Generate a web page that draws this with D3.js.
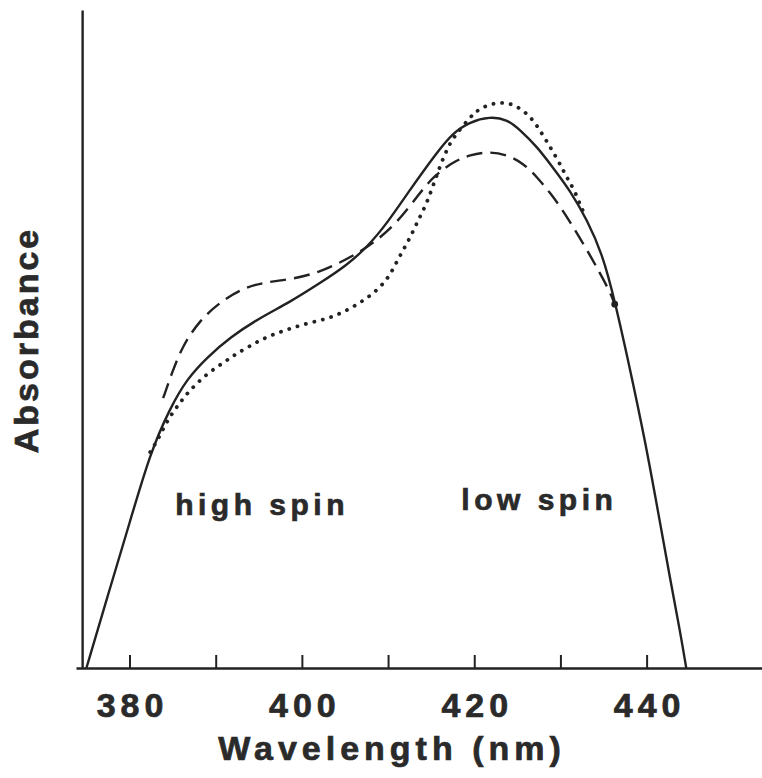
<!doctype html>
<html lang='en'>

<head>
    <meta charset='UTF-8'>
    <title>Absorbance spectra</title>
    <style>
        html,
        body {
            margin: 0;
            background: #fff;
        }

        svg text {
            font-family: "Liberation Sans", Arial, Helvetica, sans-serif;
            font-weight: bold;
            fill: #2a2a2a;
            stroke: #2a2a2a;
            stroke-width: 0.7px;
        }
    </style>
</head>

<body>
    <script src='https://d3js.org/d3.v7.min.js'></script>
    <div class='chart'></div>
    <script>
        // wavelength (nm), absorbance (arbitrary units, 0 = axis, 1 = top of frame)
        const solid = [
            [375.0, 0], [377.7, 0.12], [380.0, 0.22], [382.4, 0.327], [384.7, 0.395],
            [386.7, 0.44], [389.0, 0.472], [391.7, 0.503], [395.1, 0.532], [398.6, 0.556],
            [402.1, 0.585], [405.2, 0.612], [407.6, 0.64], [409.9, 0.676], [412.5, 0.726],
            [415.7, 0.784], [417.5, 0.813], [419.5, 0.83], [421.8, 0.838], [423.8, 0.834],
            [425.3, 0.818], [427.3, 0.792], [429.1, 0.761], [431.1, 0.726], [433.1, 0.681],
            [434.9, 0.628], [436.3, 0.559], [438.1, 0.453], [439.8, 0.347], [441.3, 0.24],
            [442.7, 0.137], [443.9, 0.055], [444.6, 0]
        ];

        const dashed = [
            [383.9, 0.41], [384.9, 0.448], [386.2, 0.491], [388.2, 0.529], [390.5, 0.556],
            [393.2, 0.578], [396.0, 0.587], [399.0, 0.591], [402.1, 0.602], [404.4, 0.616],
            [406.7, 0.632], [408.7, 0.65], [411.0, 0.676], [413.7, 0.722], [415.2, 0.746],
            [417.5, 0.769], [419.5, 0.78], [421.8, 0.785], [423.8, 0.78], [425.7, 0.767],
            [427.3, 0.746], [428.8, 0.722], [430.0, 0.701], [431.5, 0.67], [433.1, 0.635],
            [434.6, 0.6], [435.8, 0.57], [436.3, 0.553]
        ];

        const dotted = [
            [382.4, 0.328], [383.3, 0.347], [384.1, 0.369], [385.0, 0.388], [385.9, 0.404],
            [386.8, 0.419], [388.0, 0.435], [389.3, 0.45], [390.9, 0.464], [392.2, 0.476],
            [393.8, 0.488], [395.4, 0.5], [397.1, 0.509], [398.9, 0.517], [400.7, 0.524],
            [402.7, 0.53], [404.4, 0.538], [406.4, 0.552], [408.3, 0.569], [409.9, 0.59],
            [410.8, 0.612], [411.7, 0.634], [412.6, 0.655], [413.4, 0.678], [414.3, 0.701],
            [415.1, 0.728], [416.0, 0.762], [416.8, 0.787], [417.5, 0.805], [419.5, 0.837],
            [420.4, 0.848], [421.8, 0.857], [423.3, 0.86], [424.7, 0.856], [426.1, 0.843],
            [427.1, 0.828], [428.0, 0.809], [428.8, 0.792], [429.6, 0.774], [430.3, 0.757],
            [430.9, 0.742], [431.7, 0.724], [432.3, 0.703], [432.9, 0.687]
        ];

        const xTicks = [380, 390, 400, 410, 420, 430, 440];
        const labels = [
            {text: 'high spin', nm: 385.3, a: 0.232},
            {text: 'low spin', nm: 418.5, a: 0.24}
        ];

        const config = {
            width: 762,
            height: 778,
            ink: '#222',
            lineWidth: 2.4
        };

        const svg = d3.select('.chart')
            .append('svg')
            .attr('width', config.width)
            .attr('height', config.height);

        const x = d3.scaleLinear().domain([373.79, 453.39]).range([76, 762]);
        const y = d3.scaleLinear().domain([0, 1]).range([668, 10]);

        // x axis, ticks pointing up into the plot
        const xAxis = svg.append('g')
            .attr('transform', 'translate(0,' + y(0) + ')')
            .call(d3.axisBottom(x)
                .tickValues(xTicks)
                .tickSize(-13)
                .tickSizeOuter(0)
                .tickFormat((d) => d % 20 === 0 ? d : ''));

        xAxis.select('.domain')
            .attr('stroke', config.ink)
            .attr('stroke-width', config.lineWidth);
        xAxis.selectAll('.tick line')
            .attr('stroke', config.ink)
            .attr('stroke-width', 2);
        xAxis.selectAll('.tick text')
            .attr('y', 49)
            .attr('dy', null)
            .attr('dx', 2.5)
            .style('font-size', '34px')
            .style('letter-spacing', '5px');

        // y axis, bare line
        const yAxis = svg.append('g')
            .attr('transform', 'translate(' + x(374.5) + ',0)')
            .call(d3.axisLeft(y).tickValues([]).tickSizeOuter(0));

        yAxis.select('.domain')
            .attr('stroke', config.ink)
            .attr('stroke-width', config.lineWidth);

        svg.append('text')
            .attr('x', 392)
            .attr('y', 760)
            .attr('text-anchor', 'middle')
            .style('font-size', '34px')
            .style('letter-spacing', '5px')
            .text('Wavelength (nm)');

        svg.append('text')
            .attr('transform', 'translate(38,340) rotate(-90)')
            .attr('text-anchor', 'middle')
            .style('font-size', '34px')
            .style('letter-spacing', '3px')
            .text('Absorbance');

        const line = d3.line()
            .x((d) => x(d[0]))
            .y((d) => y(d[1]))
            .curve(d3.curveBasis);

        svg.append('path')
            .datum(solid)
            .attr('fill', 'none')
            .attr('stroke', config.ink)
            .attr('stroke-width', config.lineWidth)
            .attr('d', line);

        svg.append('path')
            .datum(dashed)
            .attr('fill', 'none')
            .attr('stroke', config.ink)
            .attr('stroke-width', config.lineWidth)
            .attr('stroke-dasharray', '16 8')
            .attr('d', line);

        svg.append('path')
            .datum(dotted)
            .attr('fill', 'none')
            .attr('stroke', config.ink)
            .attr('stroke-width', 3.8)
            .attr('stroke-linecap', 'round')
            .attr('stroke-dasharray', '0.1 8.6')
            .attr('d', line);

        // blob where dashed meets solid
        const last = dashed[dashed.length - 1];
        svg.append('circle')
            .attr('cx', x(last[0]))
            .attr('cy', y(last[1]))
            .attr('r', 3.4)
            .attr('fill', config.ink);

        svg.selectAll('.spin')
            .data(labels)
            .enter()
            .append('text')
            .classed('spin', true)
            .attr('x', (d) => x(d.nm))
            .attr('y', (d) => y(d.a))
            .style('font-size', '30px')
            .style('letter-spacing', '4.5px')
            .text((d) => d.text);
    </script>
</body>
</html>
